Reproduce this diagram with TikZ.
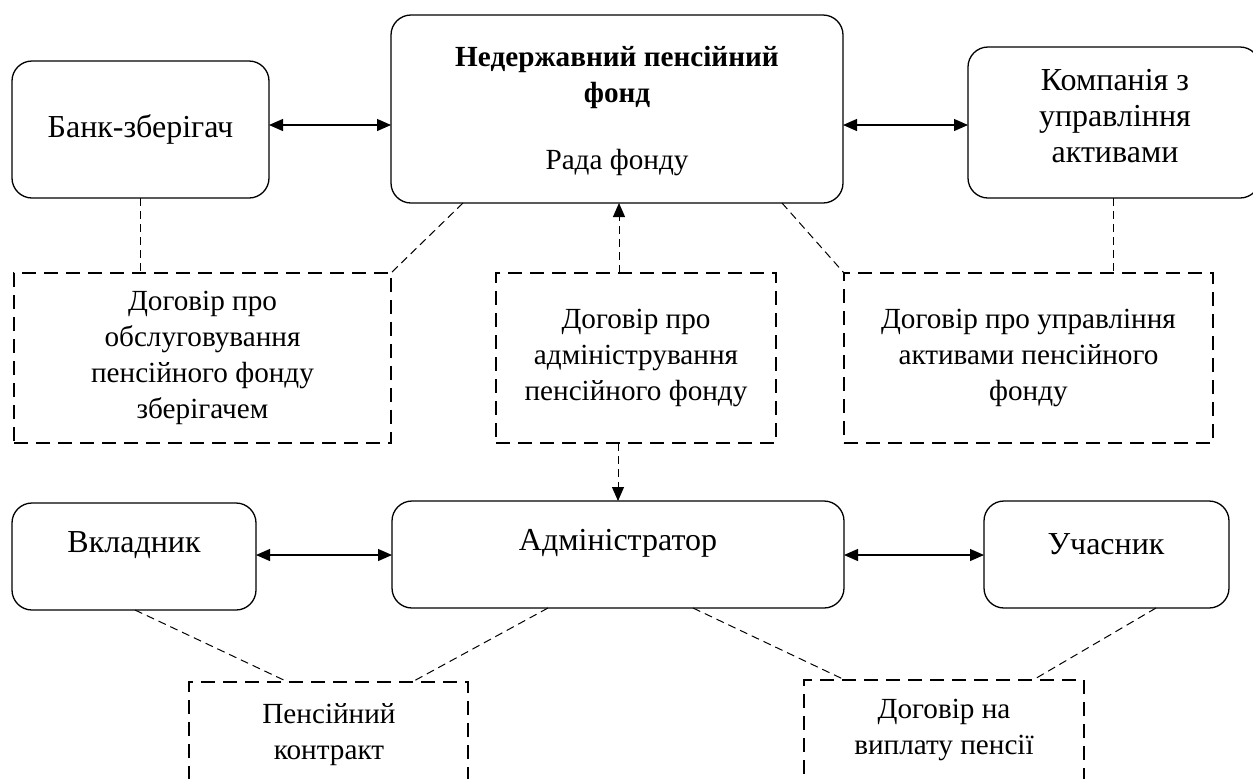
\documentclass[tikz,border=0pt]{standalone}
\usepackage{fontspec}
\setmainfont{Liberation Serif}
\usetikzlibrary{arrows.meta}
\begin{document}
\begin{tikzpicture}[x=0.5pt,y=-0.5pt,
  rbox/.style={draw, rounded corners=10pt, line width=0.65pt, inner sep=0pt, outer sep=0pt, anchor=north west},
  dbox/.style={draw, line width=1.3pt, dash pattern=on 7pt off 4pt, inner sep=0pt, outer sep=0pt, anchor=north west},
  txt/.style={font=\fontsize{14.6}{18}\selectfont, align=center, inner sep=0pt},
  btxt/.style={font=\fontsize{16}{18}\selectfont, align=center, inner sep=0pt},
  link/.style={line width=0.5pt, dash pattern=on 4pt off 2.5pt},
  tip/.style={-{Triangle[length=7pt,width=6pt]}},
  biarrow/.style={line width=0.6pt, {Triangle[length=7pt,width=6pt]}-{Triangle[length=7pt,width=6pt]}}]
\useasboundingbox (0,0) rectangle (1253,778);
\clip (0,0) rectangle (1253,778);
% rounded boxes
\node[rbox, minimum width=128.5pt, minimum height=68.5pt] (bank) at (12,61) {};
\node[rbox, minimum width=226pt, minimum height=94pt] (npf) at (391,15) {};
\node[rbox, minimum width=146pt, minimum height=75.5pt] (comp) at (968,47) {};
\node[rbox, minimum width=122pt, minimum height=53.5pt] (vkl) at (12,503) {};
\node[rbox, minimum width=226pt, minimum height=53.5pt] (adm) at (392,501) {};
\node[rbox, minimum width=122.5pt, minimum height=53.5pt] (uch) at (984,501) {};
% dashed boxes
\node[dbox, minimum width=188.5pt, minimum height=85pt] (d1) at (14,273) {};
\node[dbox, minimum width=140pt, minimum height=85pt] (d2) at (496,273) {};
\node[dbox, minimum width=184.5pt, minimum height=85pt] (d3) at (844,273) {};
\node[dbox, minimum width=139.5pt, minimum height=75pt] (b1) at (189,682) {};
\node[dbox, minimum width=140pt, minimum height=76pt] (b2) at (804,680) {};
% texts
\node[btxt] (tbank) at (bank.center) {Банк-зберігач};
\node[txt, font=\fontsize{14.6}{18}\selectfont\bfseries] (tnpf) at (617,77) {Недержавний пенсійний\\фонд};
\node[txt] (trada) at (617,163) {Рада фонду};
\node[btxt] (tcomp) at (1115,116) {Компанія з\\управління\\активами};
\node[btxt] (tvkl) at (134,545) {Вкладник};
\node[btxt] (tadm) at (618,543) {Адміністратор};
\node[btxt] (tuch) at (1106,544) {Учасник};
\node[txt] (td1) at (d1.center) {Договір про\\обслуговування\\пенсійного фонду\\зберігачем};
\node[txt] (td2) at (d2.center) {Договір про\\адміністрування\\пенсійного фонду};
\node[txt] (td3) at (d3.center) {Договір про управління\\активами пенсійного\\фонду};
\node[txt] (tb1) at (329,735) {Пенсійний\\контракт};
\node[txt] (tb2) at (944,730) {Договір на\\виплату пенсії};
% solid arrows
\draw[biarrow] (bank.east |- 0,125) -- (npf.west |- 0,125);
\draw[biarrow] (npf.east |- 0,125) -- (comp.west |- 0,125);
\draw[biarrow] (vkl.east |- 0,555) -- (adm.west |- 0,555);
\draw[biarrow] (adm.east |- 0,555) -- (uch.west |- 0,555);
% dashed connectors
\draw[link] (bank.south -| 140,0) -- (d1.north -| 140,0);
\draw[link] (npf.south -| 463,0) -- (d1.north east);
\draw[link, tip] (d2.north -| 619,0) -- (npf.south -| 619,0);
\draw[link] (npf.south -| 782,0) -- (d3.north west);
\draw[link] (comp.south -| 1113,0) -- (d3.north -| 1113,0);
\draw[link, tip] (d2.south -| 618,0) -- (adm.north -| 618,0);
\draw[link] (vkl.south -| 135,0) -- (b1.north -| 288,0);
\draw[link] (adm.south -| 548,0) -- (b1.north -| 412,0);
\draw[link] (adm.south -| 693,0) -- (b2.north -| 845,0);
\draw[link] (uch.south -| 1156,0) -- (b2.north -| 1033,0);
\end{tikzpicture}
\end{document}
